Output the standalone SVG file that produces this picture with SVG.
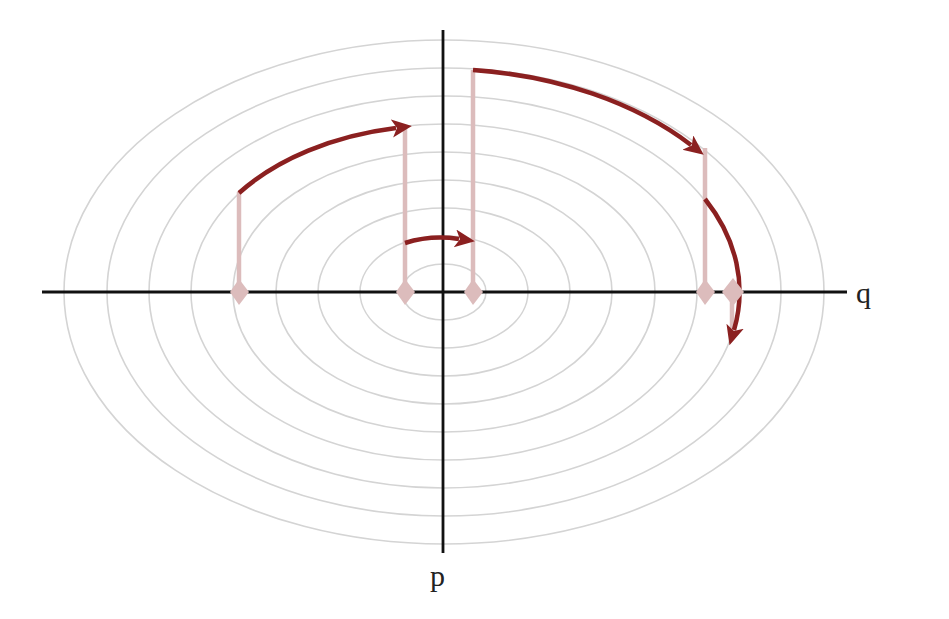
<svg xmlns="http://www.w3.org/2000/svg" width="949" height="619" viewBox="0 0 949 619">
<style>
.ring{fill:none;stroke:#d4d4d4;stroke-width:1.6}
.axis{stroke:#111;stroke-width:2.8}
.pink{stroke:#dcbcbc;stroke-width:4.5;fill:none}
.dot{fill:#dcbcbc}
.red{stroke:#8b2020;stroke-width:4.5;fill:none;marker-end:url(#ah)}
.lbl{font-family:"Liberation Serif","DejaVu Serif",serif;font-size:30px;fill:#222}
</style>
<defs>
<marker id="ah" markerUnits="userSpaceOnUse" markerWidth="26" markerHeight="22" refX="4" refY="9" orient="auto">
<path d="M0,0 L20,9 L0,18 L5,9 Z" fill="#8b2020"/>
</marker>
</defs>
<rect width="949" height="619" fill="#fff"/>
<g id="rings">
<ellipse class="ring" cx="444" cy="292" rx="42" ry="28"/>
<ellipse class="ring" cx="444" cy="292" rx="84" ry="56"/>
<ellipse class="ring" cx="444" cy="292" rx="126" ry="84"/>
<ellipse class="ring" cx="444" cy="292" rx="168" ry="112"/>
<ellipse class="ring" cx="444" cy="292" rx="211" ry="140"/>
<ellipse class="ring" cx="444" cy="292" rx="253" ry="168"/>
<ellipse class="ring" cx="444" cy="292" rx="295" ry="196"/>
<ellipse class="ring" cx="444" cy="292" rx="337" ry="224"/>
<ellipse class="ring" cx="444" cy="292" rx="380" ry="252"/>
</g>
<g id="axes">
<line class="axis" x1="42" y1="292" x2="847" y2="292"/>
<line class="axis" x1="443" y1="30" x2="443" y2="553"/>
<text class="lbl" x="856" y="303">q</text>
<text class="lbl" x="430" y="586">p</text>
</g>
<g id="connectors">
<line class="pink" x1="239" y1="292" x2="239" y2="192"/>
<line class="pink" x1="405" y1="292" x2="405" y2="128"/>
<line class="pink" x1="473" y1="292" x2="473" y2="70"/>
<line class="pink" x1="705" y1="292" x2="705" y2="148"/>
<line class="pink" x1="732" y1="292" x2="732" y2="340"/>
<path class="red" d="M239,193 A253,168 0 0 1 396,128"/>
<path class="red" d="M405,243 A83,55 0 0 1 459,239"/>
<path class="red" d="M473,70 A335,223 0 0 1 691,145"/>
<path class="red" d="M705,199 A296,198 0 0 1 734,330"/>
</g>
<g id="n1"><path class="dot" d="M239,279 L249,292 L239,305 L230,292 Z"/></g>
<g id="n2"><path class="dot" d="M405,279 L415,292 L405,305 L396,292 Z"/></g>
<g id="n3"><path class="dot" d="M473,279 L483,292 L473,305 L464,292 Z"/></g>
<g id="n4"><path class="dot" d="M705,279 L715,292 L705,305 L696,292 Z"/></g>
<g id="n5"><path class="dot" d="M733,278 L744,292 L733,306 L722,292 Z"/></g>
</svg>
